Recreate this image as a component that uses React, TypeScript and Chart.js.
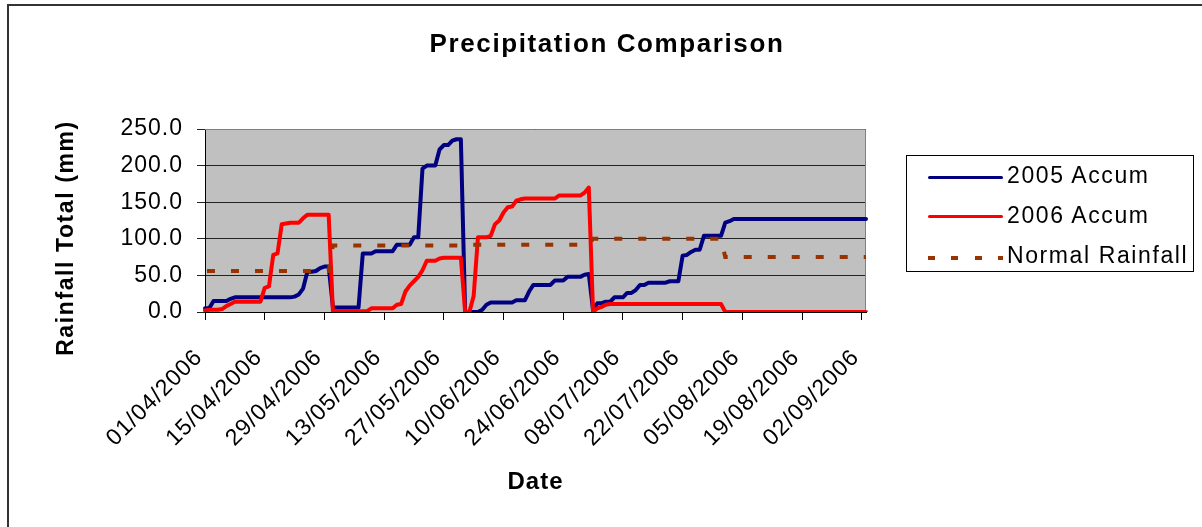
import React, { useEffect, useRef } from 'react';
import { Chart, registerables } from 'chart.js';

Chart.register(...registerables);

const FONT = '"Liberation Sans", Arial, Helvetica, sans-serif';

// ---- categories ----
const START_YEAR = 2006;
const START_MONTH = 4; // April
const START_DAY = 1;
const DAY_COUNT = 156; // 01/04/2006 .. 03/09/2006
const TICK_STEP_DAYS = 14;

// ---- axis ----
const Y_MIN = 0;
const Y_MAX = 250;
const Y_STEP = 50;

// ---- 2005 Accum (mm), daily, per month ----
const ACC2005_APR = [5, 5, 15, 15, 15, 15, 18, 20, 20, 20, 20, 20, 20, 20, 20, 20, 20, 20, 20, 20, 20, 21, 24, 32, 55, 55, 56, 60, 62, 62];
const ACC2005_MAY = [6, 6, 6, 6, 6, 6, 6, 80, 80, 80, 83, 83, 83, 83, 83, 92, 92, 92, 92, 102, 102, 196, 200, 200, 200, 222, 228, 228, 234, 236, 236];
const ACC2005_JUN = [0, 0, 0, 0, 3, 10, 13, 13, 13, 13, 13, 13, 16, 16, 16, 28, 37, 37, 37, 37, 37, 43, 43, 43, 48, 48, 48, 48, 51, 52];
const ACC2005_JUL = [2, 12, 12, 14, 14, 20, 20, 20, 26, 26, 30, 37, 37, 40, 40, 40, 40, 40, 42, 42, 42, 77, 78, 82, 85, 85, 104, 104, 104, 104, 104];
const ACC2005_AUG_SEP = [122, 124, 127, 127, 127, 127, 127, 127, 127, 127, 127, 127, 127, 127, 127, 127, 127, 127, 127, 127, 127, 127, 127, 127, 127, 127, 127, 127, 127, 127, 127, 127, 127, 127];

// ---- 2006 Accum (mm), daily, per month ----
const ACC2006_APR = [2, 3, 3, 3, 4, 8, 11, 14, 14, 14, 14, 14, 14, 14, 33, 35, 78, 80, 120, 121, 122, 122, 122, 128, 133, 133, 133, 133, 133, 133];
const ACC2006_MAY = [1, 1, 1, 1, 1, 1, 1, 1, 1, 5, 5, 5, 5, 5, 5, 10, 11, 28, 36, 42, 48, 57, 70, 70, 70, 73, 74, 74, 74, 74, 74];
const ACC2006_JUN = [0, 0, 22, 102, 102, 102, 104, 120, 125, 136, 143, 144, 152, 154, 155, 155, 155, 155, 155, 155, 155, 155, 159, 159, 159, 159, 159, 159, 163, 170];
const ACC2006_JUL = [0, 5, 7, 10, 11, 11, 11, 11, 11, 11, 11, 11, 11, 11, 11, 11, 11, 11, 11, 11, 11, 11, 11, 11, 11, 11, 11, 11, 11, 11, 11];
const ACC2006_AUG_SEP = [0, 0, 0, 0, 0, 0, 0, 0, 0, 0, 0, 0, 0, 0, 0, 0, 0, 0, 0, 0, 0, 0, 0, 0, 0, 0, 0, 0, 0, 0, 0, 0, 0, 0];

// ---- Normal Rainfall (mm), daily, per month ----
const NORMAL_APR = [56, 56, 56, 56, 56, 56, 56, 56, 56, 56, 56, 56, 56, 56, 56, 56, 56, 56, 56, 56, 56, 56, 56, 56, 56, 56, 56, 56, 56, 56];
const NORMAL_MAY = [91, 91, 91, 91, 91, 91, 91, 91, 91, 91, 91, 91, 91, 91, 91, 91, 91, 91, 91, 91, 91, 91, 91, 91, 91, 91, 91, 91, 91, 91, 91];
const NORMAL_JUN = [92, 92, 92, 92, 92, 92, 92, 92, 92, 92, 92, 92, 92, 92, 92, 92, 92, 92, 92, 92, 92, 92, 92, 92, 92, 92, 92, 92, 92, 92];
const NORMAL_JUL = [100, 100, 100, 100, 100, 100, 100, 100, 100, 100, 100, 100, 100, 100, 100, 100, 100, 100, 100, 100, 100, 100, 100, 100, 100, 100, 100, 100, 100, 100, 100];
const NORMAL_AUG_SEP = [75, 75, 75, 75, 75, 75, 75, 75, 75, 75, 75, 75, 75, 75, 75, 75, 75, 75, 75, 75, 75, 75, 75, 75, 75, 75, 75, 75, 75, 75, 75, 75, 75, 75];

const ACCUM_2005 = [...ACC2005_APR, ...ACC2005_MAY, ...ACC2005_JUN, ...ACC2005_JUL, ...ACC2005_AUG_SEP];
const ACCUM_2006 = [...ACC2006_APR, ...ACC2006_MAY, ...ACC2006_JUN, ...ACC2006_JUL, ...ACC2006_AUG_SEP];
const NORMAL = [...NORMAL_APR, ...NORMAL_MAY, ...NORMAL_JUN, ...NORMAL_JUL, ...NORMAL_AUG_SEP];

const SERIES_NAMES = ['2005 Accum', '2006 Accum', 'Normal Rainfall'];
const SERIES_COLORS = ['#000080', '#FF0000', '#993300'];

function pad2(n: number) {
  return n < 10 ? '0' + n : String(n);
}

function buildDates(): string[] {
  const out: string[] = [];
  const d = new Date(Date.UTC(START_YEAR, START_MONTH - 1, START_DAY));
  for (let i = 0; i < DAY_COUNT; i++) {
    out.push(`${pad2(d.getUTCDate())}/${pad2(d.getUTCMonth() + 1)}/${d.getUTCFullYear()}`);
    d.setUTCDate(d.getUTCDate() + 1);
  }
  return out;
}

const DATES = buildDates();

const plotFramePlugin = {
  id: 'plotFrame',
  beforeDraw(chart: any) {
    const { ctx, chartArea } = chart;
    if (!chartArea) return;
    ctx.save();
    ctx.fillStyle = '#C0C0C0';
    ctx.fillRect(chartArea.left, chartArea.top, chartArea.right - chartArea.left, chartArea.bottom - chartArea.top);
    ctx.restore();
  },
  beforeDatasetsDraw(chart: any) {
    const { ctx, chartArea } = chart;
    ctx.save();
    ctx.strokeStyle = '#808080';
    ctx.lineWidth = 1;
    ctx.beginPath();
    const t = Math.round(chartArea.top) + 0.5;
    const r = Math.round(chartArea.right) - 0.5;
    ctx.moveTo(chartArea.left, t);
    ctx.lineTo(r, t);
    ctx.lineTo(r, chartArea.bottom);
    ctx.stroke();
    ctx.restore();
  },
};

const spacingPlugin = {
  id: 'letterSpacing',
  beforeUpdate(chart: any) {
    chart.ctx.letterSpacing = '1px';
  },
  beforeDraw(chart: any) {
    chart.ctx.letterSpacing = '1px';
  },
};

export default function App() {
  const canvasRef = useRef<HTMLCanvasElement | null>(null);

  useEffect(() => {
    document.body.style.margin = '0';
    const canvas = canvasRef.current;
    if (!canvas) return;
    const chart = new Chart(canvas, {
      type: 'line',
      data: {
        labels: DATES,
        datasets: [
          {
            label: SERIES_NAMES[0],
            data: ACCUM_2005,
            borderColor: SERIES_COLORS[0],
            backgroundColor: SERIES_COLORS[0],
            borderWidth: 4,
            pointRadius: 0,
            borderJoinStyle: 'round',
            borderCapStyle: 'round',
            order: 2,
          },
          {
            label: SERIES_NAMES[1],
            data: ACCUM_2006,
            borderColor: SERIES_COLORS[1],
            backgroundColor: SERIES_COLORS[1],
            borderWidth: 4,
            pointRadius: 0,
            borderJoinStyle: 'round',
            borderCapStyle: 'round',
            order: 1,
          },
          {
            label: SERIES_NAMES[2],
            data: NORMAL,
            borderColor: SERIES_COLORS[2],
            backgroundColor: SERIES_COLORS[2],
            borderWidth: 4,
            borderDash: [8, 16],
            borderDashOffset: -2,
            pointRadius: 0,
            borderCapStyle: 'butt',
            order: 0,
          },
        ],
      },
      options: {
        animation: false,
        responsive: false,
        devicePixelRatio: 1,
        layout: { padding: { left: 0, top: 129, right: 336, bottom: 0 } },
        elements: { line: { tension: 0 } },
        plugins: {
          legend: { display: false },
          title: { display: false },
          tooltip: { enabled: false },
        },
        scales: {
          x: {
            type: 'category',
            offset: false,
            grid: {
              drawOnChartArea: false,
              drawTicks: true,
              tickLength: 8,
              lineWidth: 1,
              color: (c: any) => (c.index % TICK_STEP_DAYS === 0 ? '#000' : 'rgba(0,0,0,0)'),
            },
            border: { display: true, color: '#000', width: 1 },
            ticks: {
              autoSkip: false,
              minRotation: 45,
              maxRotation: 45,
              padding: 24,
              labelOffset: -6,
              color: '#000',
              font: { family: FONT, size: 23 },
              callback: (_v: any, i: number) => (i % TICK_STEP_DAYS === 0 ? DATES[i] : ''),
            },
            title: {
              display: true,
              text: 'Date',
              color: '#000',
              font: { family: FONT, size: 24, weight: 'bold' },
              padding: { top: 0, bottom: 30 },
            },
            afterFit: (s: any) => {
              s.height = 215;
            },
          },
          y: {
            min: Y_MIN,
            max: Y_MAX,
            ticks: {
              stepSize: Y_STEP,
              padding: 14,
              color: '#000',
              font: { family: FONT, size: 23 },
              callback: (v: any) => Number(v).toFixed(1),
            },
            grid: {
              color: '#222',
              lineWidth: 1,
              drawTicks: true,
              tickLength: 8,
            },
            border: { display: true, color: '#000', width: 1 },
            afterFit: (s: any) => {
              s.width = 205;
            },
          },
        },
      } as any,
      plugins: [plotFramePlugin, spacingPlugin],
    });
    return () => chart.destroy();
  }, []);

  const legendRows = [
    { top: 8, lineTop: 20, kind: 'solid', color: SERIES_COLORS[0], text: SERIES_NAMES[0] },
    { top: 48, lineTop: 59, kind: 'solid', color: SERIES_COLORS[1], text: SERIES_NAMES[1] },
    { top: 88, lineTop: 100, kind: 'dash', color: SERIES_COLORS[2], text: SERIES_NAMES[2] },
  ];

  return (
    <div style={{ position: 'relative', width: 1202, height: 527, overflow: 'hidden', background: '#fff' }}>
      <canvas ref={canvasRef} width={1202} height={527} style={{ position: 'absolute', left: 0, top: 0, width: 1202, height: 527 }} />
      <div
        style={{
          position: 'absolute',
          left: 7,
          top: 4,
          width: 1400,
          height: 800,
          borderLeft: '2px solid #333',
          borderTop: '2px solid #333',
          pointerEvents: 'none',
        }}
      />
      <div
        style={{
          position: 'absolute',
          left: 0,
          top: 28,
          width: 1214,
          textAlign: 'center',
          fontFamily: FONT,
          fontWeight: 'bold',
          fontSize: 26,
          lineHeight: '30px',
          letterSpacing: '1.6px',
          color: '#000',
          whiteSpace: 'nowrap',
        }}
      >
        Precipitation Comparison
      </div>
      <div
        style={{
          position: 'absolute',
          left: 65,
          top: 238,
          transform: 'translate(-50%, -50%) rotate(-90deg)',
          fontFamily: FONT,
          fontWeight: 'bold',
          fontSize: 23,
          lineHeight: '26px',
          letterSpacing: '1.6px',
          color: '#000',
          whiteSpace: 'nowrap',
        }}
      >
        Rainfall Total (mm)
      </div>
      <div
        style={{
          position: 'absolute',
          left: 906,
          top: 155,
          width: 288,
          height: 117,
          boxSizing: 'border-box',
          border: '1px solid #000',
          background: '#fff',
        }}
      >
        {legendRows.map((r, i) => (
          <React.Fragment key={i}>
            <div
              style={{
                position: 'absolute',
                left: 21,
                top: r.lineTop,
                width: 75,
                height: r.kind === 'dash' ? 4 : 3,
                background:
                  r.kind === 'dash'
                    ? `repeating-linear-gradient(to right, ${r.color} 0px, ${r.color} 7px, transparent 7px, transparent 23.4px)`
                    : r.color,
                borderRadius: r.kind === 'dash' ? 0 : 2,
              }}
            />
            <div
              style={{
                position: 'absolute',
                left: 100,
                top: r.top,
                fontFamily: FONT,
                fontSize: 23,
                lineHeight: '23px',
                letterSpacing: '1.6px',
                color: '#000',
                whiteSpace: 'nowrap',
              }}
            >
              {r.text}
            </div>
          </React.Fragment>
        ))}
      </div>
    </div>
  );
}
